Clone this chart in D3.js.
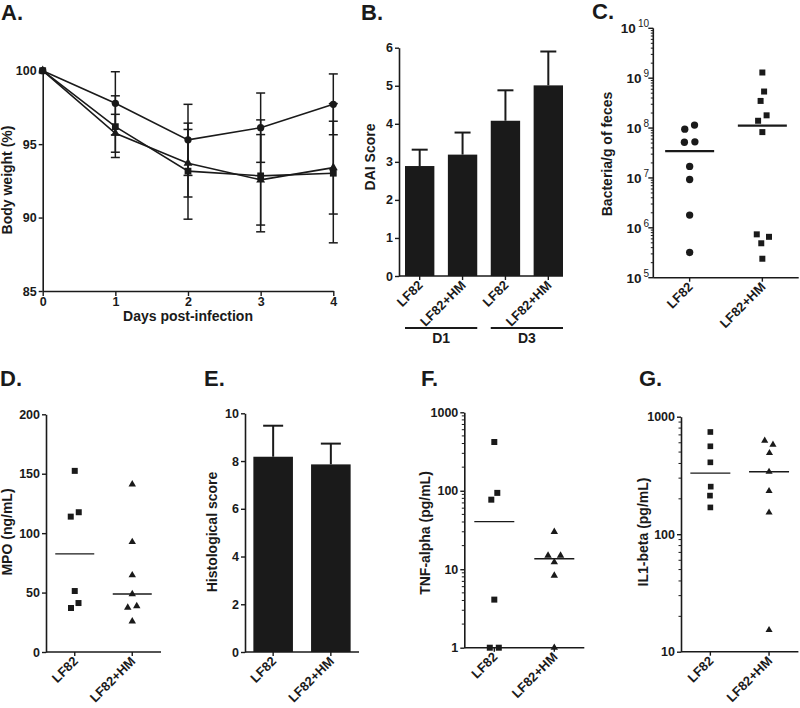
<!DOCTYPE html>
<html><head><meta charset="utf-8">
<script src="https://cdn.jsdelivr.net/npm/d3@7"></script>
<style>
body{margin:0;background:#fff}
svg text{font-family:"Liberation Sans",Arial,Helvetica,sans-serif;font-weight:bold;fill:#1a1a1a}
</style></head><body>
<svg id="chart" width="800" height="708"></svg>
<script>
// ---------------- DATA ----------------
// Panel A: body weight (%)
const days = [0, 1, 2, 3, 4];
const weightCircle = [100, 97.78, 95.29, 96.12, 97.71];
const weightCircleSD = [0, 2.15, 2.42, 2.36, 2.07];
const weightSquare = [100, 96.19, 93.16, 92.84, 93.02];
const weightSquareSD = [0, 2.1, 3.27, 3.81, 4.74];
const weightTriangle = [100, 95.74, 93.70, 92.57, 93.40];
const weightTriangleSD = [0, 1.29, 2.3, 3.08, 3.16];
const weightTicks = [85, 90, 95, 100];

// Panel B: DAI score
const daiCats = ["D1 LF82", "D1 LF82+HM", "D3 LF82", "D3 LF82+HM"];
const daiLabels = ["LF82", "LF82+HM", "LF82", "LF82+HM"];
const daiMean = [2.89, 3.19, 4.08, 5.01];
const daiErr = [0.43, 0.58, 0.80, 0.89];
const daiDays = ["D1", "D3"];
const daiTicks = [0, 1, 2, 3, 4, 5, 6];

// Shared groups
const groups = ["LF82", "LF82+HM"];

// Panel C: bacteria / g of feces
const bactLF82 = [1.15e8, 9.5e7, 5.3e7, 5.2e7, 1.7e7, 9.3e6, 1.8e6, 3.2e5];
const bactHM = [1.3e9, 5.4e8, 3.5e8, 1.8e8, 1.4e8, 8.3e7, 7.4e5, 6.6e5, 4.9e5, 2.4e5];
const bactExponents = [5, 6, 7, 8, 9, 10];

// Panel D: MPO (ng/mL)
const mpoLF82 = [152.4, 117.6, 113.9, 51.3, 41.2, 37.0];
const mpoHM = [141.1, 92.6, 64.6, 48.8, 38.7, 37.3, 25.8];
const mpoTicks = [0, 50, 100, 150, 200];

// Panel E: histological score
const histoMean = [8.18, 7.86];
const histoErr = [1.30, 0.87];
const histoTicks = [0, 2, 4, 6, 8, 10];

// Panel F: TNF-alpha (pg/mL)
const tnfLF82 = [418, 94, 77, 4.1, 1, 1];
const tnfHM = [29.9, 14.9, 14.9, 12.3, 8.3, 1];
const tnfTicks = [1, 10, 100, 1000];

// Panel G: IL1-beta (pg/mL)
const il1LF82 = [741, 560, 409, 254, 213, 169];
const il1HM = [625, 578, 491, 340, 233, 153, 15.3];
const il1Ticks = [10, 100, 1000];

// ---------------- HELPERS ----------------
const svg = d3.select("#chart");
const INK = "#1a1a1a";
const TICK_FS = 12.5, TITLE_FS = 14, CAT_FS = 13;

function styleAxis(g) {
  g.selectAll("path.domain").attr("stroke", INK).attr("stroke-width", 1.6);
  g.selectAll(".tick line").attr("stroke", INK).attr("stroke-width", 1.4);
  g.selectAll(".tick text").attr("font-size", TICK_FS).attr("fill", INK)
    .style("font-family", '"Liberation Sans",Arial,sans-serif').style("font-weight", "bold");
}

function leftAxis(x0, scale, ticks, fmt) {
  const g = svg.append("g").attr("transform", `translate(${x0},0)`)
    .call(d3.axisLeft(scale).tickValues(ticks).tickSize(4).tickSizeOuter(0).tickPadding(2)
      .tickFormat(fmt || d3.format("d")));
  styleAxis(g);
  return g;
}

function minorLogTicks(x0, scale, len) {
  const [lo, hi] = scale.domain();
  const vals = [];
  for (let e = Math.round(Math.log10(lo)); e < Math.round(Math.log10(hi)); e++) {
    for (let m = 2; m <= 9; m++) vals.push(m * Math.pow(10, e));
  }
  svg.append("g").selectAll("line").data(vals).join("line")
    .attr("x1", x0 - len).attr("x2", x0)
    .attr("y1", d => scale(d)).attr("y2", d => scale(d))
    .attr("stroke", INK).attr("stroke-width", 1);
}

function bottomCatAxis(y0, scale, labels, xStart, xEnd) {
  const centers = scale.domain().map(d => scale(d) + (scale.bandwidth ? scale.bandwidth() / 2 : 0));
  svg.append("line").attr("x1", xStart).attr("x2", xEnd).attr("y1", y0).attr("y2", y0)
    .attr("stroke", INK).attr("stroke-width", 1.6);
  svg.append("g").selectAll("line").data(centers).join("line")
    .attr("x1", d => d).attr("x2", d => d).attr("y1", y0).attr("y2", y0 + 4)
    .attr("stroke", INK).attr("stroke-width", 1.4);
  svg.append("g").selectAll("text").data(centers).join("text")
    .attr("transform", d => `translate(${d + 4},${y0 + 10}) rotate(-45)`)
    .attr("text-anchor", "end").attr("font-size", CAT_FS)
    .text((d, i) => labels[i]);
  return centers;
}

function yTitle(x, y, txt) {
  svg.append("text").attr("transform", `translate(${x},${y}) rotate(-90)`)
    .attr("text-anchor", "middle").attr("font-size", TITLE_FS).text(txt);
}

function panelLabel(x, y, txt) {
  svg.append("text").attr("x", x).attr("y", y).attr("font-size", 22).text(txt);
}

// simple beeswarm computed from the values
function swarm(vals, y, cx, dmin) {
  const pts = vals.map(v => ({ v, y: y(v), dx: 0 }));
  const sorted = pts.slice().sort((a, b) => a.v - b.v);
  const placed = [];
  for (const p of sorted) {
    const hit = o => placed.some(q => (q.y - p.y) ** 2 + (q.dx - o) ** 2 < dmin * dmin - 1e-6);
    let k = 0, off = 0;
    while (hit(off)) { k++; off = (k % 2 ? 1 : -1) * Math.ceil(k / 2) * 0.25; }
    p.dx = off; placed.push(p);
  }
  const clusters = [];
  let cur = null;
  sorted.forEach((p, i) => {
    if (i === 0 || Math.abs(p.y - sorted[i - 1].y) >= dmin) { cur = [p]; clusters.push(cur); }
    else cur.push(p);
  });
  clusters.forEach(c => { const m = d3.mean(c, d => d.dx); c.forEach(d => d.dx -= m); });
  return pts.map(p => ({ v: p.v, x: cx + p.dx, y: p.y }));
}

function drawPoints(pts, type, size) {
  svg.append("g").selectAll("path").data(pts).join("path")
    .attr("transform", d => `translate(${d.x},${d.y})`)
    .attr("d", d3.symbol().type(type).size(size)).attr("fill", INK);
}

function medianLine(vals, y, cx, half, width) {
  const m = d3.median(vals);
  svg.append("line").attr("x1", cx - half).attr("x2", cx + half)
    .attr("y1", y(m)).attr("y2", y(m)).attr("stroke", INK).attr("stroke-width", width);
}

// ---------------- PANEL A ----------------
{
  const x = d3.scaleLinear().domain([0, 4]).range([42.7, 333.3]);
  const y = d3.scaleLinear().domain([85, 100]).range([291, 70.7]);
  leftAxis(42.7, y, weightTicks);
  const gx = svg.append("g").attr("transform", `translate(0,291)`)
    .call(d3.axisBottom(x).tickValues(days).tickSize(5).tickSizeOuter(0).tickPadding(1).tickFormat(d3.format("d")));
  styleAxis(gx);
  const series = [
    { v: weightCircle, sd: weightCircleSD, t: d3.symbolCircle, s: 42 },
    { v: weightSquare, sd: weightSquareSD, t: d3.symbolSquare, s: 46 },
    { v: weightTriangle, sd: weightTriangleSD, t: d3.symbolTriangle, s: 34 }
  ];
  const line = d3.line().x(d => x(d[0])).y(d => y(d[1]));
  series.forEach(S => {
    const pts = days.map((d, i) => [d, S.v[i], S.sd[i]]);
    svg.append("path").attr("d", line(pts)).attr("fill", "none").attr("stroke", INK).attr("stroke-width", 1.6);
    const eb = svg.append("g").attr("stroke", INK).attr("stroke-width", 1.5);
    pts.filter(p => p[2] > 0).forEach(p => {
      const cx = x(p[0]), y1 = y(p[1] - p[2]), y2 = y(p[1] + p[2]);
      eb.append("line").attr("x1", cx).attr("x2", cx).attr("y1", y1).attr("y2", y2);
      eb.append("line").attr("x1", cx - 4.5).attr("x2", cx + 4.5).attr("y1", y1).attr("y2", y1);
      eb.append("line").attr("x1", cx - 4.5).attr("x2", cx + 4.5).attr("y1", y2).attr("y2", y2);
    });
    drawPoints(pts.map(p => ({ x: x(p[0]), y: y(p[1]) })), S.t, S.s);
  });
  yTitle(12, 180, "Body weight (%)");
  svg.append("text").attr("x", 188).attr("y", 321).attr("text-anchor", "middle").attr("font-size", TITLE_FS).text("Days post-infection");
  panelLabel(1, 20, "A.");
}

// ---------------- PANEL B ----------------
{
  const x = d3.scaleBand().domain(daiCats).range([399, 569]).paddingInner(0.315).paddingOuter(0.14);
  const y = d3.scaleLinear().domain([0, 6]).range([276, 47.7]);
  const bw = x.bandwidth();
  svg.append("g").selectAll("rect").data(daiCats).join("rect")
    .attr("x", d => x(d)).attr("width", bw)
    .attr("y", (d, i) => y(daiMean[i])).attr("height", (d, i) => y(0) - y(daiMean[i]))
    .attr("fill", INK);
  const eb = svg.append("g").attr("stroke", INK).attr("stroke-width", 2);
  daiCats.forEach((d, i) => {
    const cx = x(d) + bw / 2, yt = y(daiMean[i] + daiErr[i]);
    eb.append("line").attr("x1", cx).attr("x2", cx).attr("y1", y(daiMean[i])).attr("y2", yt);
    eb.append("line").attr("x1", cx - 8).attr("x2", cx + 8).attr("y1", yt).attr("y2", yt);
  });
  leftAxis(399, y, daiTicks);
  bottomCatAxis(276, x, daiLabels, 399, x(daiCats[3]) + bw);
  daiDays.forEach((dd, k) => {
    const xa = x(daiCats[2 * k]), xb = x(daiCats[2 * k + 1]) + bw;
    svg.append("line").attr("x1", xa).attr("x2", xb).attr("y1", 328).attr("y2", 328)
      .attr("stroke", INK).attr("stroke-width", 2);
    svg.append("text").attr("x", (xa + xb) / 2).attr("y", 343).attr("text-anchor", "middle")
      .attr("font-size", TITLE_FS).text(dd);
  });
  yTitle(375, 157, "DAI Score");
  panelLabel(361, 20, "B.");
}

// ---------------- PANEL C ----------------
{
  const x = d3.scalePoint().domain(groups).range([653.3, 798.7]).padding(0.5);
  const y = d3.scaleLog().domain([1e5, 1e10]).range([277.7, 28.3]);
  svg.append("line").attr("x1", 653.3).attr("x2", 653.3).attr("y1", y(1e5)).attr("y2", y(1e10))
    .attr("stroke", INK).attr("stroke-width", 1.6);
  minorLogTicks(653.3, y, 2.5);
  const gl = svg.append("g");
  bactExponents.forEach(e => {
    const v = Math.pow(10, e);
    gl.append("line").attr("x1", 648.3).attr("x2", 653.3).attr("y1", y(v)).attr("y2", y(v))
      .attr("stroke", INK).attr("stroke-width", 1.4);
    const t = gl.append("text").attr("x", 649).attr("y", y(v) + 5).attr("text-anchor", "end").attr("font-size", 13.5);
    t.append("tspan").text("10");
    t.append("tspan").attr("dx", 2).attr("dy", -6).attr("font-size", 10).style("font-weight", "normal").text(String(e));
  });
  bottomCatAxis(277.7, x, groups, 653.3, 798.7);
  drawPoints(swarm(bactLF82, y, x("LF82"), 10.5), d3.symbolCircle, 42);
  drawPoints(swarm(bactHM, y, x("LF82+HM"), 10), d3.symbolSquare, 36);
  medianLine(bactLF82, y, x("LF82"), 24.5, 2.2);
  medianLine(bactHM, y, x("LF82+HM"), 24.5, 2.2);
  yTitle(612, 154, "Bacteria/g of feces");
  panelLabel(592, 19, "C.");
}

// ---------------- PANEL D ----------------
{
  const x = d3.scalePoint().domain(groups).range([46, 161]).padding(0.5);
  const y = d3.scaleLinear().domain([0, 200]).range([652, 414.3]);
  leftAxis(46, y, mpoTicks);
  bottomCatAxis(652, x, groups, 46, 161);
  drawPoints(swarm(mpoLF82, y, x("LF82"), 9), d3.symbolSquare, 36);
  drawPoints(swarm(mpoHM, y, x("LF82+HM"), 9), d3.symbolTriangle, 24);
  medianLine(mpoLF82, y, x("LF82"), 19.5, 1.3);
  medianLine(mpoHM, y, x("LF82+HM"), 19.5, 1.3);
  yTitle(12, 532, "MPO (ng/mL)");
  panelLabel(0, 386, "D.");
}

// ---------------- PANEL E ----------------
{
  const x = d3.scaleBand().domain(groups).range([245, 359]).paddingInner(0.314).paddingOuter(0.145);
  const y = d3.scaleLinear().domain([0, 10]).range([652, 413.3]);
  const bw = x.bandwidth();
  svg.append("g").selectAll("rect").data(groups).join("rect")
    .attr("x", d => x(d)).attr("width", bw)
    .attr("y", (d, i) => y(histoMean[i])).attr("height", (d, i) => y(0) - y(histoMean[i]))
    .attr("fill", INK);
  const eb = svg.append("g").attr("stroke", INK).attr("stroke-width", 2);
  groups.forEach((d, i) => {
    const cx = x(d) + bw / 2, yt = y(histoMean[i] + histoErr[i]);
    eb.append("line").attr("x1", cx).attr("x2", cx).attr("y1", y(histoMean[i])).attr("y2", yt);
    eb.append("line").attr("x1", cx - 10).attr("x2", cx + 10).attr("y1", yt).attr("y2", yt);
  });
  leftAxis(245, y, histoTicks);
  bottomCatAxis(652, x, groups, 245, 359);
  yTitle(217, 532, "Histological score");
  panelLabel(204, 386, "E.");
}

// ---------------- PANEL F ----------------
{
  const x = d3.scalePoint().domain(groups).range([464.3, 584.3]).padding(0.5);
  const y = d3.scaleLog().domain([1, 1000]).range([647.7, 412.3]);
  minorLogTicks(464.3, y, 2.5);
  leftAxis(464.3, y, tnfTicks);
  bottomCatAxis(647.7, x, groups, 464.3, 584.3);
  drawPoints(swarm(tnfLF82, y, x("LF82"), 9), d3.symbolSquare, 36);
  drawPoints(swarm(tnfHM, y, x("LF82+HM"), 9), d3.symbolTriangle, 24);
  medianLine(tnfLF82, y, x("LF82"), 20, 1.3);
  medianLine(tnfHM, y, x("LF82+HM"), 20, 1.3);
  yTitle(430, 533, "TNF-alpha (pg/mL)");
  panelLabel(421, 386, "F.");
}

// ---------------- PANEL G ----------------
{
  const x = d3.scalePoint().domain(groups).range([681, 798.4]).padding(0.5);
  const y = d3.scaleLog().domain([10, 1000]).range([651.7, 416.7]);
  minorLogTicks(681, y, 2.5);
  leftAxis(681, y, il1Ticks);
  bottomCatAxis(651.7, x, groups, 681, 798.4);
  drawPoints(swarm(il1LF82, y, x("LF82"), 9), d3.symbolSquare, 32);
  drawPoints(swarm(il1HM, y, x("LF82+HM"), 9), d3.symbolTriangle, 22);
  medianLine(il1LF82, y, x("LF82"), 20, 1.3);
  medianLine(il1HM, y, x("LF82+HM"), 20, 1.3);
  yTitle(648, 532, "IL1-beta (pg/mL)");
  panelLabel(639, 386, "G.");
}
</script>
</body></html>
